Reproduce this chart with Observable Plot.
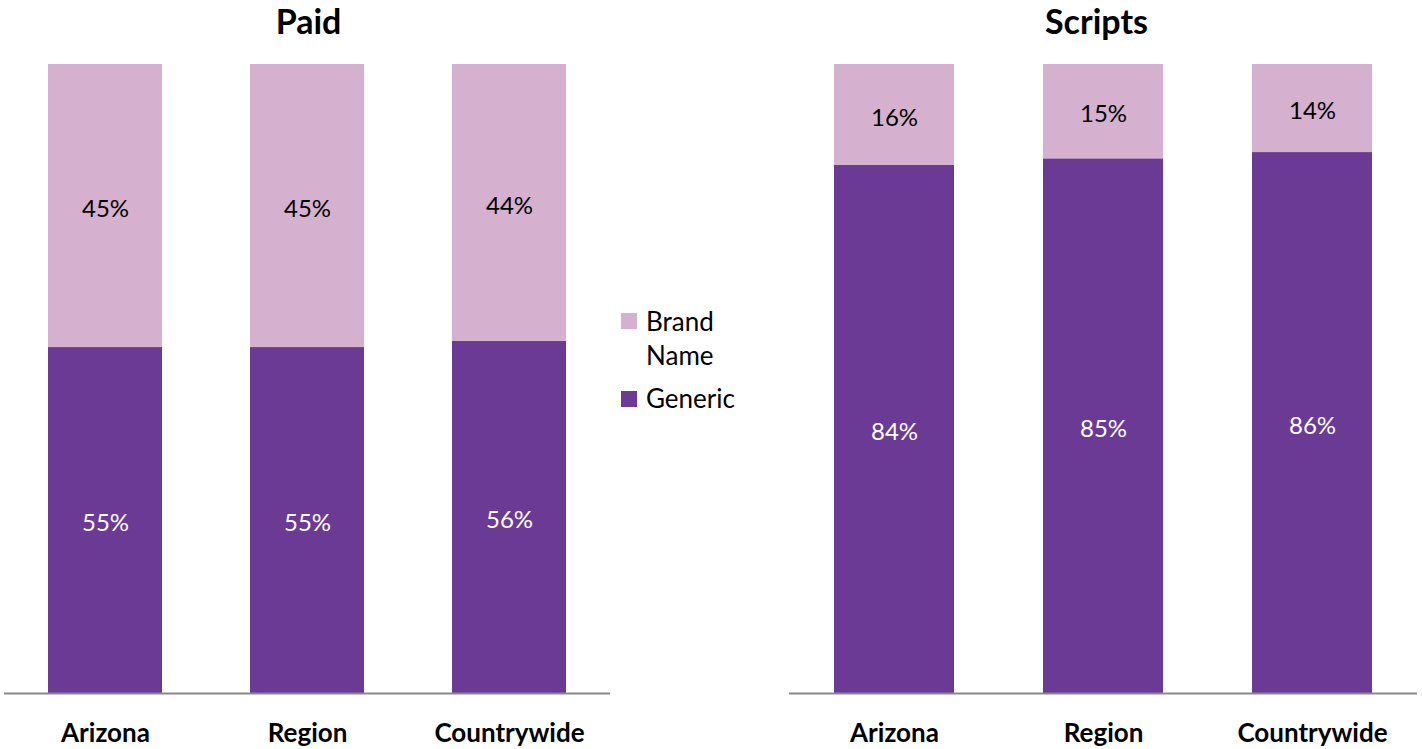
<!DOCTYPE html>
<html>
<head>
<meta charset="utf-8">
<script src="https://cdn.jsdelivr.net/npm/d3@7"></script>
<script src="https://cdn.jsdelivr.net/npm/@observablehq/plot@0.6"></script>
<style>
  body { margin: 0; background: #fff; }
  #wrap { position: relative; width: 1422px; height: 749px; overflow: hidden; font-family: Lato, "Open Sans", sans-serif; }
  #wrap > * { position: absolute; top: 0; }
</style>
</head>
<body>
<div id="wrap"></div>
<script>
const categories = ["Arizona", "Region", "Countrywide"];
const series = ["Generic", "Brand Name"];
const legendOrder = ["Brand Name", "Generic"];
const colors = ["#6B3A94", "#D5B0CF"];
const paidGeneric = [0.55, 0.55, 0.56];
const paidBrand = [0.45, 0.45, 0.44];
const scriptsGeneric = [0.84, 0.85, 0.86];
const scriptsBrand = [0.16, 0.15, 0.14];

function rows(gen, brand) {
  const out = [];
  categories.forEach((c, i) => {
    out.push({cat: c, series: "Generic", value: gen[i]});
    out.push({cat: c, series: "Brand Name", value: brand[i]});
  });
  return out;
}

const FONT = "Lato, 'Open Sans', sans-serif";

function panel({title, data, width, marginLeft, marginRight, padding, titleDx}) {
  const opts = {x: "cat", y: "value", text: d => Math.round(d.value * 100) + "%", dy: 3, fontSize: 24};
  return Plot.plot({
    width, height: 749,
    marginLeft, marginRight, marginTop: 64, marginBottom: 56,
    style: {fontFamily: FONT, background: "transparent"},
    x: {domain: categories, paddingInner: padding, paddingOuter: padding / 2, label: null},
    y: {domain: [0, 1], axis: null},
    color: {domain: series, range: colors},
    marks: [
      Plot.barY(data, {x: "cat", y: "value", fill: "series"}),
      Plot.text(data, Plot.filter(d => d.series === "Generic", Plot.stackY({...opts, fill: "white"}))),
      Plot.text(data, Plot.filter(d => d.series === "Brand Name", Plot.stackY({...opts, fill: "black"}))),
      Plot.ruleY([0], {stroke: "#898989", strokeWidth: 2}),
      Plot.axisX({tickSize: 0, tickPadding: 30, fontSize: 26, fontWeight: "bold", fill: "black", label: null}),
      Plot.text([title], {frameAnchor: "top", dy: -41, dx: titleDx, fontSize: 34, fontWeight: "bold", fill: "black", lineAnchor: "middle"})
    ]
  });
}

const wrap = document.getElementById("wrap");

const left = panel({title: "Paid", data: rows(paidGeneric, paidBrand), width: 620, marginLeft: 4, marginRight: 10, padding: 0.435, titleDx: 1});
left.style.left = "0px";
wrap.appendChild(left);

const right = panel({title: "Scripts", data: rows(scriptsGeneric, scriptsBrand), width: 642, marginLeft: 9, marginRight: 5, padding: 0.427, titleDx: -7});
right.style.left = "780px";
wrap.appendChild(right);

// Legend
const leg = d3.create("svg").attr("width", 160).attr("height", 130)
  .style("left", "600px").style("top", "290px").style("position", "absolute");
const legItems = [
  {name: legendOrder[0], lines: ["Brand", "Name"], sq: 23, base: [41, 75]},
  {name: legendOrder[1], lines: ["Generic"], sq: 101, base: [118]}
];
legItems.forEach(it => {
  leg.append("rect").attr("x", 21).attr("y", it.sq).attr("width", 16).attr("height", 16)
    .attr("fill", colors[series.indexOf(it.name)]);
  it.lines.forEach((l, j) => {
    leg.append("text").attr("x", 46).attr("y", it.base[j]).attr("font-size", 26)
      .attr("font-family", FONT).attr("fill", "black").text(l);
  });
});
wrap.appendChild(leg.node());
</script>
</body>
</html>
